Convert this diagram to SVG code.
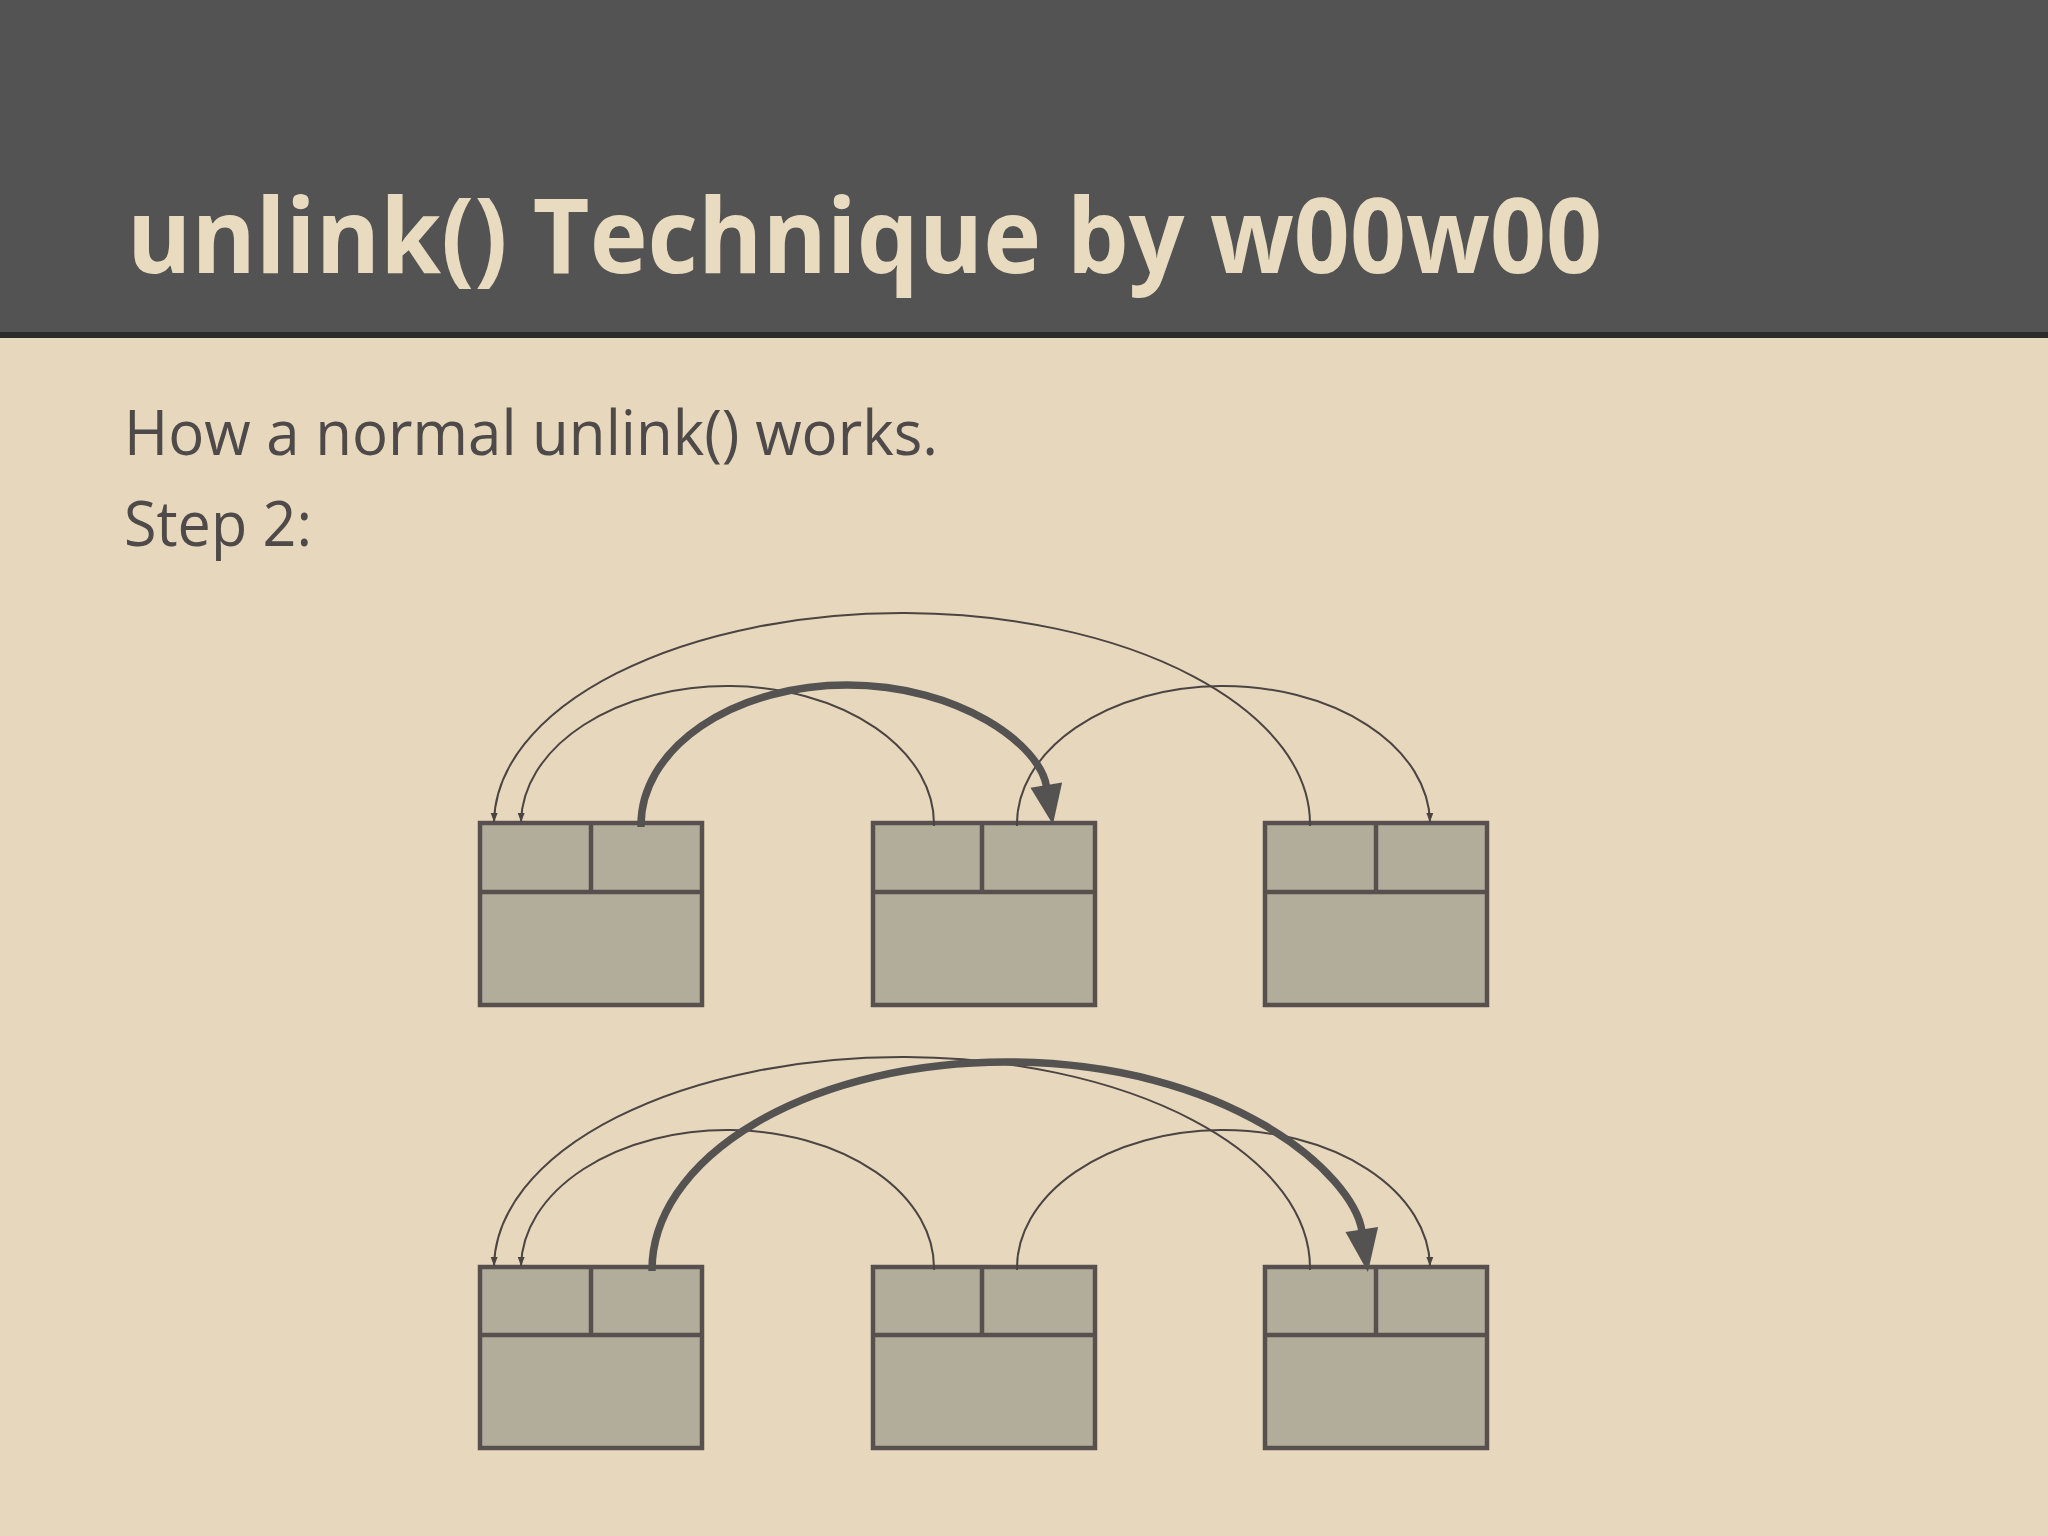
<svg xmlns="http://www.w3.org/2000/svg" width="2048" height="1536" viewBox="0 0 2048 1536">
<style>
.title{font-family:"Open Sans","DejaVu Sans",sans-serif;font-weight:bold;font-size:104px;fill:#e8dbbf}
.body{font-family:"Open Sans","DejaVu Sans",sans-serif;font-size:62px;fill:#4e4a49}
.box{fill:#b2ad9b;stroke:#58504f;stroke-width:4.5}
.div{stroke:#58504f;stroke-width:4.5;fill:none}
.thin{fill:none;stroke:#4a4443;stroke-width:2;marker-end:url(#ah)}
.thick{fill:none;stroke:#545352;stroke-width:7.5}
.head{fill:#545352}
</style>
<defs>
<marker id="ah" markerWidth="10" markerHeight="8" refX="9" refY="4" orient="auto" markerUnits="userSpaceOnUse">
<path d="M0,0.5 L9,4 L0,7.5 Z" fill="#4a4443"/>
</marker>
</defs>
<rect x="0" y="0" width="2048" height="1536" fill="#e7d7bc"/>
<rect x="0" y="0" width="2048" height="333" fill="#535353"/>
<rect x="0" y="332" width="2048" height="6" fill="#2b2b2b"/>
<text class="title" x="127" y="273" textLength="1475" lengthAdjust="spacingAndGlyphs">unlink() Technique by w00w00</text>
<text class="body" x="124" y="455" textLength="814" lengthAdjust="spacingAndGlyphs">How a normal unlink() works.</text>
<text class="body" x="124" y="546" textLength="188" lengthAdjust="spacingAndGlyphs">Step 2:</text>

<g id="row1-chunk1"><rect class="box" x="480" y="823" width="222" height="182"/><path class="div" d="M480,892 H702 M591,823 V892"/></g>
<g id="row1-chunk2"><rect class="box" x="873" y="823" width="222" height="182"/><path class="div" d="M873,892 H1095 M982,823 V892"/></g>
<g id="row1-chunk3"><rect class="box" x="1265" y="823" width="222" height="182"/><path class="div" d="M1265,892 H1487 M1376,823 V892"/></g>

<g id="row2-chunk1"><rect class="box" x="480" y="1267" width="222" height="181"/><path class="div" d="M480,1335 H702 M591,1267 V1335"/></g>
<g id="row2-chunk2"><rect class="box" x="873" y="1267" width="222" height="181"/><path class="div" d="M873,1335 H1095 M982,1267 V1335"/></g>
<g id="row2-chunk3"><rect class="box" x="1265" y="1267" width="222" height="181"/><path class="div" d="M1265,1335 H1487 M1376,1267 V1335"/></g>

<g id="connectors">
<path class="thin" d="M1310,826 A408,211 0 0 0 494,822"/>
<path class="thin" d="M934,826 A206.5,138 0 0 0 521,822"/>
<path class="thin" d="M1017,826 A206.5,138 0 0 1 1430,822"/>
<path class="thick" d="M641,827 L641,825 A206,140 0 0 1 847,685 C960,685 1040,745 1046.5,786.5"/>
<polygon class="head" points="1030.5,787.8 1062.1,782.4 1052.9,824.5"/>

<path class="thin" d="M1310,1270 A408,211 0 0 0 494,1266"/>
<path class="thin" d="M934,1270 A206.5,138 0 0 0 521,1266"/>
<path class="thin" d="M1017,1270 A206.5,138 0 0 1 1430,1266"/>
<path class="thick" d="M652,1271 L652,1270 A354,208 0 0 1 1006,1062 C1230,1062 1354,1175 1362,1231.5"/>
<polygon class="head" points="1345.5,1231.9 1378.1,1227.1 1367.9,1272.1"/>
</g>
</svg>
